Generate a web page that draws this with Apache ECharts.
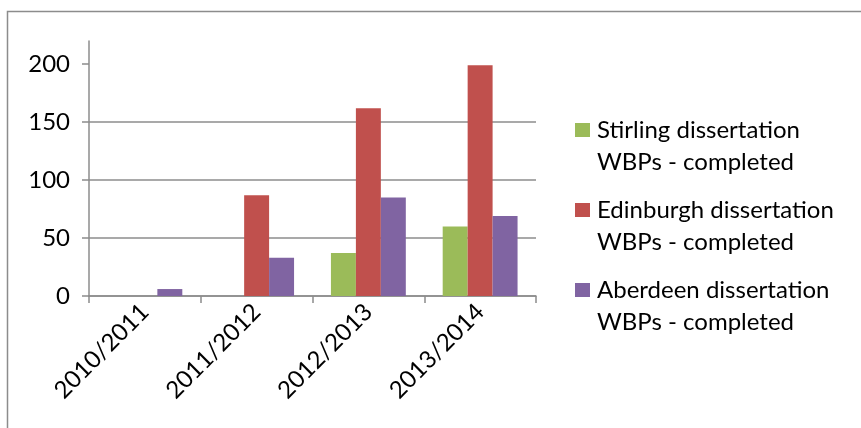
<!DOCTYPE html>
<html>
<head>
<meta charset="utf-8">
<script src="https://cdn.jsdelivr.net/npm/echarts@6/dist/echarts.min.js"></script>
<style>
html,body{margin:0;padding:0;background:#fff;}
#c{width:861px;height:428px;}
</style>
</head>
<body>
<div id="c"></div>
<script>
const categories = ['2010/2011', '2011/2012', '2012/2013', '2013/2014'];
const stirling = [0, 0, 37, 60];
const edinburgh = [0, 87, 162, 199];
const aberdeen = [6, 33, 85, 69];
const seriesNames = ['Stirling dissertation WBPs - completed', 'Edinburgh dissertation WBPs - completed', 'Aberdeen dissertation WBPs - completed'];
const yTicks = [0, 50, 100, 150, 200];

const FONT = 'Lato';
const axisColor = '#8c8c8c';
const chart = echarts.init(document.getElementById('c'));
chart.setOption({
  animation: false,
  graphic: [{
    type: 'rect',
    shape: { x: 7.5, y: 11.5, width: 1000, height: 1000 },
    style: { fill: 'none', stroke: '#8c8c8c', lineWidth: 1.5 },
    silent: true
  }],
  grid: { left: 89, right: 325, top: 41, bottom: 132, containLabel: false },
  legend: {
    orient: 'vertical',
    left: 570,
    top: 77,
    itemWidth: 15,
    itemHeight: 14,
    itemGap: -16,
    icon: 'rect',
    formatter: n => '\n' + n.replace(' WBPs', '\nWBPs'),
    textStyle: { fontFamily: FONT, fontSize: 24, color: '#000', lineHeight: 32, padding: [0, 0, 0, 2] }
  },
  xAxis: {
    type: 'category',
    data: categories,
    axisLine: { lineStyle: { color: axisColor, width: 1.5 } },
    axisTick: { show: true, length: 7, alignWithLabel: false, lineStyle: { color: axisColor, width: 1.5 } },
    axisLabel: { rotate: 45, margin: 12, fontFamily: FONT, fontSize: 24, color: '#000', interval: 0 }
  },
  yAxis: {
    type: 'value',
    min: 0,
    max: 220,
    interval: 50,
    axisLine: { show: true, lineStyle: { color: axisColor, width: 1.5 } },
    axisTick: { show: true, length: 7, customValues: yTicks, lineStyle: { color: axisColor, width: 1.5 } },
    axisLabel: { customValues: yTicks, margin: 19, fontFamily: FONT, fontSize: 24, color: '#000' },
    splitLine: { show: true, showMaxLine: false, lineStyle: { color: axisColor, width: 1.5 } }
  },
  series: [
    { name: seriesNames[0], type: 'bar', data: stirling, itemStyle: { color: '#9BBB59' }, barGap: '0%', barCategoryGap: '33%' },
    { name: seriesNames[1], type: 'bar', data: edinburgh, itemStyle: { color: '#C0504D' }, barGap: '0%', barCategoryGap: '33%' },
    { name: seriesNames[2], type: 'bar', data: aberdeen, itemStyle: { color: '#8064A2' }, barGap: '0%', barCategoryGap: '33%' }
  ]
});
</script>
</body>
</html>
